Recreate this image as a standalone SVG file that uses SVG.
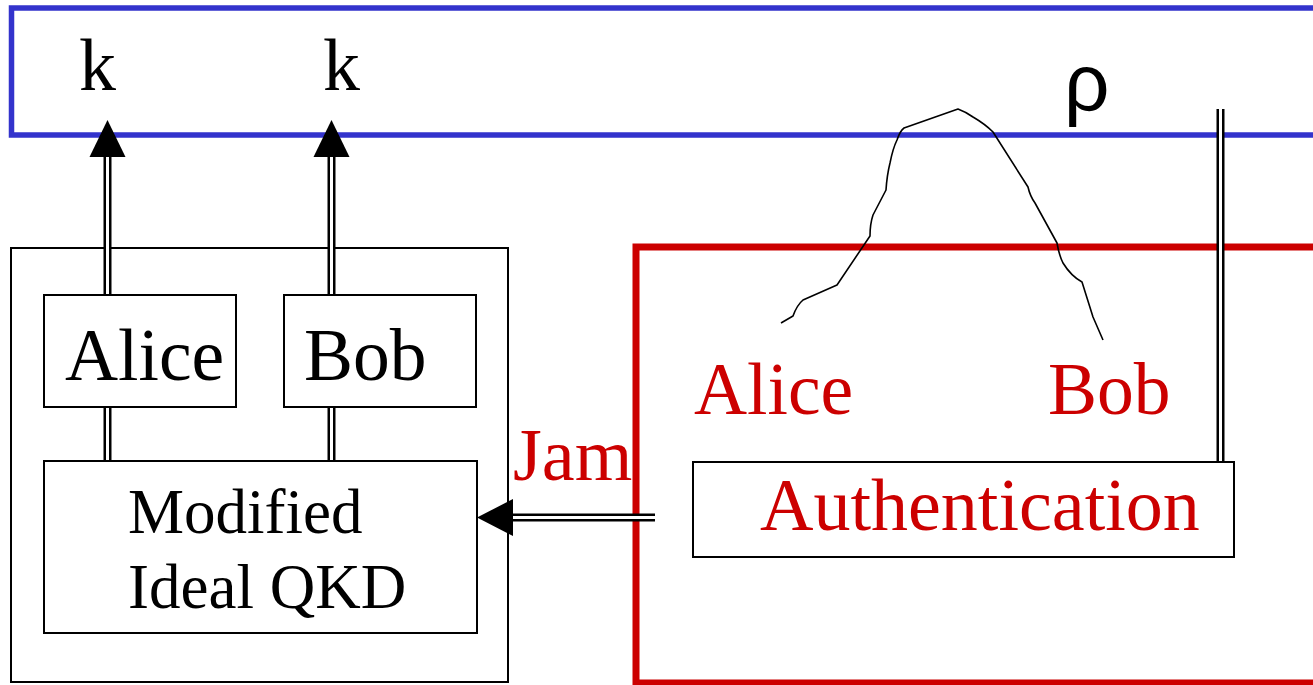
<svg xmlns="http://www.w3.org/2000/svg" width="1313" height="685" viewBox="0 0 1313 685">
  <style>
    .serif { font-family: "Liberation Serif", "Times New Roman", serif; }
    .box { fill: #ffffff; stroke: #000000; stroke-width: 2; }
    .rail-out { fill: none; stroke: #000000; stroke-width: 8; }
    .rail-in { fill: none; stroke: #ffffff; stroke-width: 3; }
    .black { fill: #000000; }
    .red { fill: #cc0000; }
  </style>

  <rect width="1313" height="685" fill="#ffffff"/>

  <!-- environment frame (blue, open to the right) -->
  <g id="environment">
    <path d="M1320,8 L11.5,8 L11.5,135 L1320,135" fill="none" stroke="#3333cc" stroke-width="5.5"/>
    <text x="79" y="90" class="serif black" font-size="74">k</text>
    <text x="323" y="90" class="serif black" font-size="74">k</text>
    <text x="1064" y="110" font-family="Liberation Sans, Arial, sans-serif" font-size="80" fill="#000000">ρ</text>
  </g>

  <!-- real protocol frame (red, open to the right) -->
  <g id="real-protocol">
    <path d="M1320,247 L636,247 L636,683 L1320,683" fill="none" stroke="#cc0000" stroke-width="7"/>
  </g>

  <!-- ideal system -->
  <g id="ideal-system">
    <rect x="11" y="248" width="497" height="434" class="box"/>
  </g>

  <!-- double-rail connectors: thick black stroke with a white core -->
  <g id="connectors">
    <!-- key outputs -->
    <line x1="107.5" y1="295" x2="107.5" y2="157" class="rail-out"/>
    <line x1="107.5" y1="296" x2="107.5" y2="155" class="rail-in"/>
    <path d="M89.5,157 L107.5,120 L125.5,157 Z" class="black"/>
    <line x1="331.5" y1="295" x2="331.5" y2="157" class="rail-out"/>
    <line x1="331.5" y1="296" x2="331.5" y2="155" class="rail-in"/>
    <path d="M313.5,157 L331.5,120 L349.5,157 Z" class="black"/>
    <!-- parties to ideal QKD -->
    <line x1="107.5" y1="407" x2="107.5" y2="461" class="rail-out"/>
    <line x1="107.5" y1="406" x2="107.5" y2="462" class="rail-in"/>
    <line x1="331.5" y1="407" x2="331.5" y2="461" class="rail-out"/>
    <line x1="331.5" y1="406" x2="331.5" y2="462" class="rail-in"/>
    <!-- jam signal -->
    <line x1="655" y1="517.5" x2="512" y2="517.5" class="rail-out"/>
    <line x1="656" y1="517.5" x2="510" y2="517.5" class="rail-in"/>
    <path d="M513,499 L477,517.5 L513,536 Z" class="black"/>
    <!-- authentication to environment -->
    <line x1="1220.5" y1="109" x2="1220.5" y2="462" class="rail-out"/>
    <line x1="1220.5" y1="108" x2="1220.5" y2="463" class="rail-in"/>
    <!-- quantum channel -->
    <path d="M781,323 L793,316 Q797,305 803,300 L837,285 L870,236 Q870,224 873,215 L886,190 Q887,175 890,163 Q893,148 897,140 Q900,131 904,128 L958,109 Q966,112 973,117 Q985,124 993,132 L1028,187 Q1030,196 1035,203 L1057,243 Q1059,255 1063,263 Q1071,276 1082,282 L1093,317 L1103,340" fill="none" stroke="#000000" stroke-width="1.6" stroke-linejoin="round"/>
  </g>

  <g id="ideal-alice">
    <rect x="44" y="295" width="192" height="112" class="box"/>
    <text x="65" y="380" class="serif black" font-size="73.5">Alice</text>
  </g>

  <g id="ideal-bob">
    <rect x="284" y="295" width="192" height="112" class="box"/>
    <text x="304" y="380" class="serif black" font-size="73.5">Bob</text>
  </g>

  <g id="modified-ideal-qkd">
    <rect x="44" y="461" width="433" height="172" class="box"/>
    <text x="128" y="533" class="serif black" font-size="63">Modified</text>
    <text x="128" y="608" class="serif black" font-size="63">Ideal QKD</text>
  </g>

  <g id="jam-label">
    <text x="513" y="480" class="serif red" font-size="74">Jam</text>
  </g>

  <g id="real-alice">
    <text x="694" y="414" class="serif red" font-size="73.5">Alice</text>
  </g>

  <g id="real-bob">
    <text x="1048" y="414" class="serif red" font-size="73.5">Bob</text>
  </g>

  <g id="authentication">
    <rect x="693" y="462" width="541" height="95" class="box"/>
    <text x="760" y="530" class="serif red" font-size="74">Authentication</text>
  </g>
</svg>
